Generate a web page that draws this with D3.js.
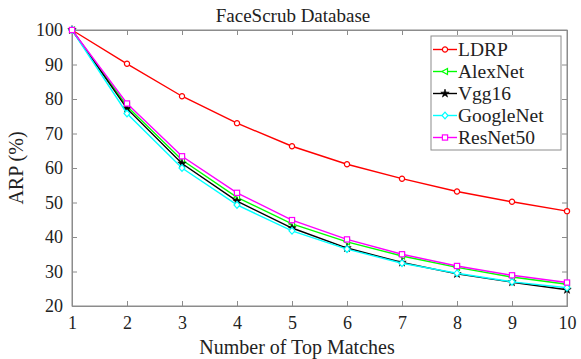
<!DOCTYPE html>
<html>
<head>
<meta charset="utf-8">
<script src="https://cdn.jsdelivr.net/npm/d3@7"></script>
<style>
  body { margin: 0; background: #fff; }
  svg text { font-family: "Liberation Serif", "Times New Roman", serif !important; fill: #222; }
</style>
</head>
<body>
<svg id="chart" width="581" height="359"></svg>
<script>
// number of top matches
const matches = [1, 2, 3, 4, 5, 6, 7, 8, 9, 10];

// ARP (%) per method
const ldrp      = [100, 90.2, 80.8, 73.0, 66.3, 61.1, 56.9, 53.2, 50.2, 47.5];
const alexnet   = [100, 77.9, 62.3, 51.5, 43.8, 38.6, 34.5, 31.2, 28.4, 26.3];
const vgg16     = [100, 77.2, 61.3, 50.4, 42.6, 36.8, 32.6, 29.3, 26.9, 24.7];
const googlenet = [100, 75.8, 60.0, 49.3, 41.8, 36.5, 32.4, 29.5, 27.0, 25.3];
const resnet50  = [100, 78.7, 63.4, 52.8, 44.9, 39.3, 35.0, 31.6, 28.9, 26.8];

const yTicks = [20, 30, 40, 50, 60, 70, 80, 90, 100];

const series = [
  { name: 'LDRP',      values: ldrp,      colour: '#ff0000', marker: 'circle' },
  { name: 'AlexNet',   values: alexnet,   colour: '#00ff00', marker: 'triangle' },
  { name: 'Vgg16',     values: vgg16,     colour: '#000000', marker: 'star' },
  { name: 'GoogleNet', values: googlenet, colour: '#00ffff', marker: 'diamond' },
  { name: 'ResNet50',  values: resnet50,  colour: '#ff00ff', marker: 'square' }
];

const svg = d3.select('#chart'),
  margin = { top: 30, right: 14, bottom: 53, left: 72 },
  width = +svg.attr('width') - margin.left - margin.right,
  height = +svg.attr('height') - margin.top - margin.bottom;

const graph = svg.append('g').attr('transform', `translate(${margin.left}, ${margin.top})`);

const x = d3.scaleLinear().domain([1, 10]).range([0, width]);
const y = d3.scaleLinear().domain([20, 100]).range([height, 0]);

const axisColour = '#8c8c8c';

// box around the plot
graph.append('rect')
  .attr('width', width).attr('height', height)
  .attr('fill', 'none').attr('stroke', axisColour).attr('stroke-width', 1);

// bottom & left axes with labels, ticks pointing in
const xAxis = graph.append('g').attr('transform', `translate(0, ${height})`)
  .call(d3.axisBottom(x).tickValues(matches).tickSize(-5).tickPadding(10).tickFormat(d3.format('d')));
const yAxis = graph.append('g')
  .call(d3.axisLeft(y).tickValues(yTicks).tickSize(-5).tickPadding(9));

// top & right ticks without labels
const xTop = graph.append('g')
  .call(d3.axisTop(x).tickValues(matches).tickSize(-5).tickFormat(''));
const yRight = graph.append('g').attr('transform', `translate(${width}, 0)`)
  .call(d3.axisRight(y).tickValues(yTicks).tickSize(-5).tickFormat(''));

[xAxis, yAxis, xTop, yRight].forEach(a => {
  a.attr('font-family', null);
  a.select('.domain').attr('stroke', axisColour);
  a.selectAll('.tick line').attr('stroke', axisColour);
  a.selectAll('.tick text').style('font-size', '18px').attr('fill', '#222');
});

const line = d3.line()
  .x((d, i) => x(matches[i]))
  .y(d => y(d));

function drawMarker(sel, type, colour) {
  if (type === 'circle') {
    sel.append('circle').attr('r', 2.6)
      .attr('fill', '#fff').attr('stroke', colour).attr('stroke-width', 1.2);
  } else if (type === 'square') {
    sel.append('rect').attr('x', -2.6).attr('y', -2.6).attr('width', 5.2).attr('height', 5.2)
      .attr('fill', '#fff').attr('stroke', colour).attr('stroke-width', 1.2);
  } else if (type === 'diamond') {
    sel.append('path').attr('d', 'M0,-3.4L3,0L0,3.4L-3,0Z')
      .attr('fill', '#fff').attr('stroke', colour).attr('stroke-width', 1.2);
  } else if (type === 'triangle') {
    sel.append('path').attr('d', 'M-3,0L2.5,-3L2.5,3Z')
      .attr('fill', '#fff').attr('stroke', colour).attr('stroke-width', 1.2);
  } else if (type === 'star') {
    sel.append('path').attr('d', d3.symbol(d3.symbolStar, 22)())
      .attr('fill', colour).attr('stroke', colour).attr('stroke-width', 0.6);
  }
}

const station = graph.selectAll('.series')
  .data(series)
  .enter().append('g')
  .attr('class', 'series');

station.append('path')
  .attr('d', d => line(d.values))
  .attr('fill', 'none')
  .attr('stroke', d => d.colour)
  .attr('stroke-width', 1.4);

station.each(function(s) {
  d3.select(this).selectAll('.pt')
    .data(s.values)
    .enter().append('g')
    .attr('class', 'pt')
    .attr('transform', (d, i) => `translate(${x(matches[i])},${y(d)})`)
    .each(function() { drawMarker(d3.select(this), s.marker, s.colour); });
});

// legend
const legend = svg.append('g').attr('transform', 'translate(431, 36)');
legend.append('rect')
  .attr('width', 130).attr('height', 114)
  .attr('fill', '#fff').attr('stroke', axisColour).attr('stroke-width', 1);

const item = legend.selectAll('.item')
  .data(series)
  .enter().append('g')
  .attr('class', 'item')
  .attr('transform', (d, i) => `translate(0, ${13.5 + i * 22})`);

item.append('line')
  .attr('x1', 2).attr('x2', 26)
  .attr('stroke', d => d.colour).attr('stroke-width', 1.4);
item.append('g').attr('transform', 'translate(14,0)')
  .each(function(d) { drawMarker(d3.select(this), d.marker, d.colour); });
item.append('text')
  .attr('x', 27).attr('dy', '0.35em')
  .style('font-size', '19.5px')
  .text(d => d.name);

// title and axis labels
svg.append('text')
  .attr('x', 293).attr('y', 22)
  .attr('text-anchor', 'middle').style('font-size', '19px')
  .text('FaceScrub Database');

svg.append('text')
  .attr('x', 297).attr('y', 354)
  .attr('text-anchor', 'middle').style('font-size', '20px')
  .text('Number of Top Matches');

svg.append('text')
  .attr('transform', `translate(23, ${margin.top + height / 2}) rotate(-90)`)
  .attr('text-anchor', 'middle').style('font-size', '20px')
  .text('ARP (%)');
</script>
</body>
</html>
